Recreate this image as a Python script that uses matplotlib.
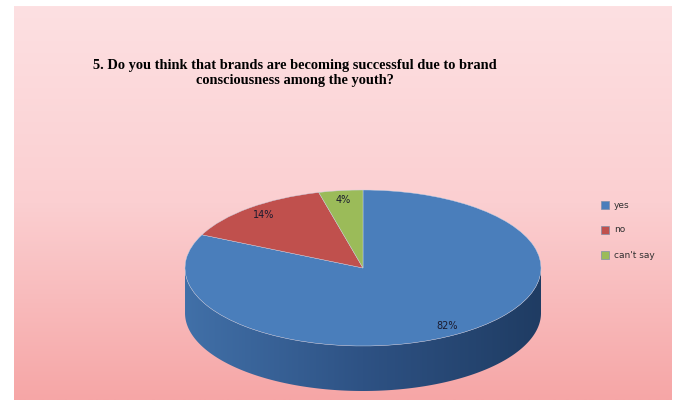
import numpy as np
import matplotlib
matplotlib.use('Agg')
import matplotlib.pyplot as plt
from matplotlib.patches import Polygon
from matplotlib.colors import LinearSegmentedColormap

labels = ['yes', 'no', "can't say"]
shares = [82, 14, 4]
colors = ['#4a7ebb', '#c0504d', '#9bbb59']
title = ('5. Do you think that brands are becoming successful due to brand\n'
         'consciousness among the youth?')

W, H = 686, 400
fig = plt.figure(figsize=(W / 100, H / 100), dpi=100, facecolor='white')

# pink gradient panel behind everything
bg = fig.add_axes([0, 0, 1, 1])
bg.set_xlim(0, W)
bg.set_ylim(H, 0)
bg.axis('off')
pink = LinearSegmentedColormap.from_list('pink', ['#fde0e2', '#fbcfd1', '#f6a6a6'])
grad = np.linspace(0, 1, 256).reshape(-1, 1)
bg.imshow(grad, cmap=pink, aspect='auto', extent=(14, 672, 400, 6), zorder=0)

bg.text(W / 2 - 48, 73, title, ha='center', va='center', fontsize=10.4,
        fontweight='bold', family='Liberation Serif', linespacing=1.15)

# legend
for i, (lab, col) in enumerate(zip(labels, colors)):
    y = 205 + i * 25
    bg.add_patch(plt.Rectangle((601, y - 4), 8, 8, facecolor=col,
                               edgecolor='#7f8fa8', lw=0.5))
    bg.text(614, y, lab, ha='left', va='center', fontsize=6.5, color='#303030')

# pie: drawn with equal data units, then squashed into an ellipse
cx, cy, rx, ry = 363, 268, 178, 78
depth = 45 / ry
ax = fig.add_axes([(cx - rx) / W, 0, 2 * rx / W, 1])
ax.set_xlim(-1, 1)
ax.set_ylim(-(H - cy) / ry, cy / ry)
ax.axis('off')

# side wall of the front half
t = np.linspace(np.pi, 2 * np.pi, 200)
wall = np.concatenate([np.c_[np.cos(t), np.sin(t)],
                       np.c_[np.cos(t[::-1]), np.sin(t[::-1]) - depth]])
side = Polygon(wall, closed=True, facecolor='none', edgecolor='none')
ax.add_patch(side)
side_cmap = LinearSegmentedColormap.from_list('side', ['#4170a8', '#2e5284', '#1f3c63'])
shade = ax.imshow(np.linspace(0, 1, 256).reshape(1, -1), cmap=side_cmap,
                  aspect='auto', extent=(-1, 1, -1 - depth, 0), zorder=1)
shade.set_clip_path(side)

wedges, _, pct = ax.pie(shares, colors=colors, startangle=90, counterclock=False,
                        autopct='%1.0f%%', pctdistance=0.88, radius=1,
                        wedgeprops=dict(linewidth=0.3, edgecolor='#c8d4e6'),
                        textprops=dict(fontsize=7, color='#1a1a2e'))
ax.set_aspect('auto')
ax.set_xlim(-1, 1)
ax.set_ylim(-(H - cy) / ry, cy / ry)
for w in wedges:
    w.set_zorder(2)
for p in pct:
    p.set_zorder(3)

fig.savefig('out.png', dpi=100, facecolor='white')
